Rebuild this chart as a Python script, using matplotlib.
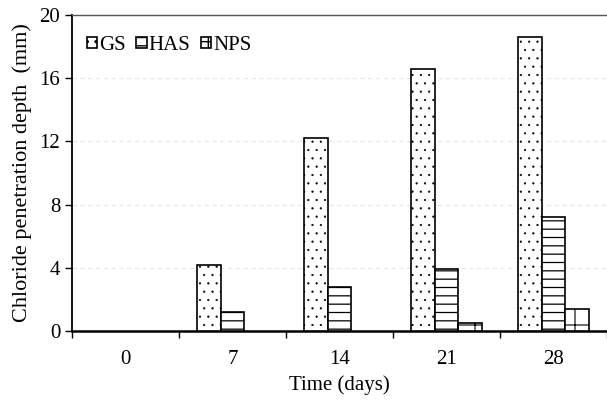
import matplotlib.pyplot as plt
import numpy as np

plt.rcParams["font.family"] = ["Liberation Serif", "DejaVu Serif"]

days = ["0", "7", "14", "21", "28"]
gs = [0, 4.2, 12.2, 16.6, 18.6]
has = [0, 1.2, 2.8, 3.9, 7.2]
nps = [0, 0, 0, 0.5, 1.4]

fig = plt.figure(figsize=(6.07, 4.03), dpi=100)
ax = fig.add_axes([0.1186, 0.1787, 0.8814, 0.7841])

x = np.arange(len(days))
w = 0.224
fs = 15
# (values, label, hatch, hatch line width)
series = [(gs, "GS", "..", 0.35), (has, "HAS", "--", 0.9), (nps, "NPS", "+", 0.8)]
for i, (vals, name, hatch, hlw) in enumerate(series):
    v = np.array(vals, dtype=float)
    v[v == 0] = np.nan  # zero bars are not drawn in the original
    with plt.rc_context({"hatch.linewidth": hlw}):
        ax.bar(x + (i - 1) * w, v, w, facecolor="white", edgecolor="black",
               linewidth=1.2, hatch=hatch, label=name, zorder=3)

ax.set_xlim(-0.5, len(days) - 0.5)
ax.set_ylim(0, 20)
ax.set_yticks(range(0, 21, 4))
ax.set_xticks(x)
ax.set_xticklabels(days)
ax.set_xticks(np.arange(-0.5, len(days)), minor=True)
ax.tick_params(axis="x", which="major", length=0, pad=14, labelsize=fs)
ax.tick_params(axis="x", which="minor", length=5, direction="out", width=1)
ax.tick_params(axis="y", length=5, direction="out", width=1, labelsize=fs)
ax.yaxis.grid(True, linestyle=(0, (4, 3)), color="#e6e6e6", linewidth=0.8)
ax.set_axisbelow(True)

ax.spines["right"].set_visible(False)
ax.spines["top"].set_color("#555555")
ax.spines["top"].set_linewidth(1.0)
ax.spines["left"].set_linewidth(1.3)
ax.spines["bottom"].set_linewidth(1.8)

ax.set_xlabel("Time (days)", fontsize=fs, labelpad=4)
ax.set_ylabel("Chloride penetration depth  (mm)", fontsize=16, labelpad=5)

ax.legend(loc="upper left", ncol=3, frameon=False, fontsize=fs,
          handlelength=0.5, handleheight=0.5, handletextpad=0.1,
          columnspacing=0.5, borderaxespad=0.3, bbox_to_anchor=(0.0, 0.98))

fig.savefig("out.png", dpi=100)
